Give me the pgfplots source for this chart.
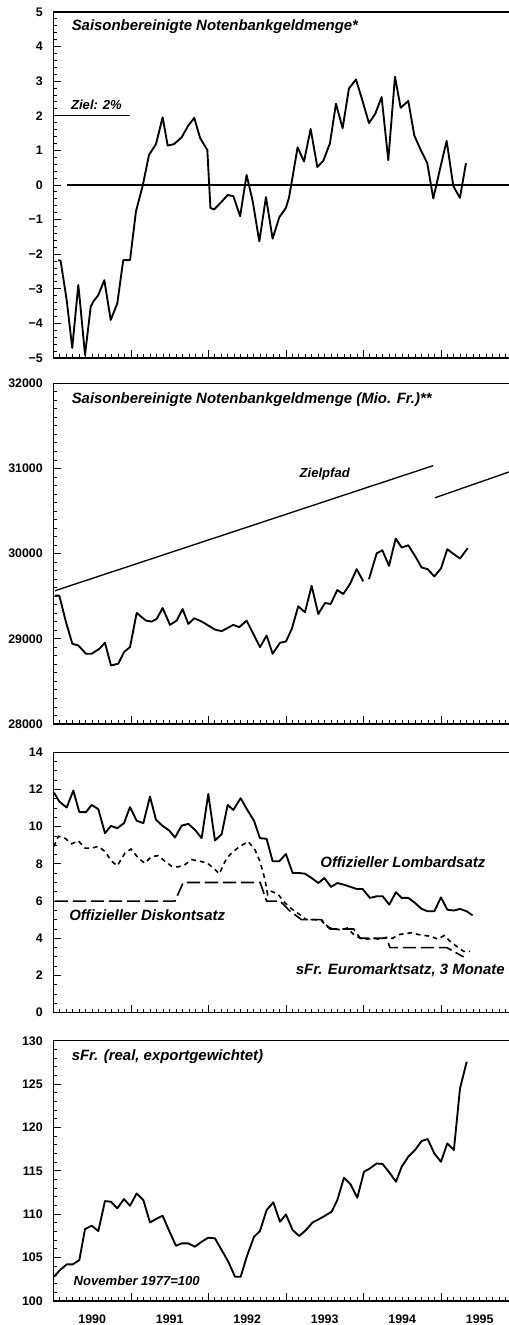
\documentclass[border=0pt]{standalone}
\usepackage{pgfplots}
\pgfplotsset{compat=1.18}
\usepackage{fontspec}
\setmainfont{Liberation Sans}

\newcommand\lab{\fontsize{11.2}{13}\selectfont\bfseries\itshape}
\newcommand\slab{\fontsize{9.8}{12}\selectfont\bfseries\itshape}

\pgfplotsset{
  panel/.style={
    scale only axis, width=346.3pt, xmin=0, xmax=71.5,
    anchor=south west, clip mode=individual,
    scaled y ticks=false,
    axis line style={line width=0.9pt},
    tick align=inside, xtick pos=bottom, ytick pos=left,
    xtick={12,24,36,48,60}, xticklabels={},
    minor xtick={1,...,71},
    major tick length=6pt, minor tick length=3pt,
    every tick/.style={black, line width=0.7pt},
    yticklabel style={font=\fontsize{9.3}{10}\selectfont\bfseries, xshift=-4.5pt},
    xticklabel style={font=\fontsize{9.3}{10}\selectfont\bfseries},
  },
  dat/.style={black, line width=1.4pt, no markers, line join=round},
}

\begin{document}
\begin{tikzpicture}
\useasboundingbox (0,0) rectangle (381pt,-993.75pt);

% Panel 1: Wachstum der Notenbankgeldmenge
\begin{axis}[panel, at={(40.125pt,-268.5pt)}, height=259.5pt,
  ymin=-5, ymax=5, ytick={-5,...,5},
  yticklabels={−5,−4,−3,−2,−1,0,1,2,3,4,5}, minor y tick num=4]
\addplot[dat] coordinates {(0.74,-2.17) (1.1,-2.19) (2.04,-3.32) (2.9,-4.71) (3.84,-2.89) (4.1,-3.37) (4.88,-4.91) (5.76,-3.52) (6.16,-3.37) (6.94,-3.18) (7.87,-2.75) (8.86,-3.90) (9.88,-3.42) (10.8,-2.17) (11.85,-2.17) (12.77,-0.76) (13.8,-0.03) (14.79,0.87) (15.87,1.18) (16.9,1.96) (17.68,1.14) (18.66,1.18) (19.85,1.38) (20.88,1.72) (21.8,1.94) (22.7,1.36) (23.82,1.01) (24.3,-0.66) (24.85,-0.71) (25.9,-0.51) (26.97,-0.29) (27.85,-0.32) (28.9,-0.9) (29.9,0.29) (30.85,-0.47) (31.87,-1.63) (32.9,-0.35) (33.93,-1.55) (34.97,-0.93) (35.99,-0.66) (36.46,-0.37) (37.0,0.21) (37.8,1.09) (38.79,0.68) (39.82,1.62) (40.85,0.52) (41.78,0.70) (42.8,1.2) (43.74,2.35) (44.77,1.64) (45.75,2.79) (46.84,3.05) (47.82,2.45) (48.85,1.79) (49.83,2.06) (50.81,2.54) (51.84,0.72) (52.88,3.13) (53.76,2.23) (54.94,2.43) (55.87,1.43) (56.85,1.02) (57.88,0.63) (58.81,-0.39) (59.85,0.46) (60.88,1.28) (61.91,-0.03) (62.94,-0.37) (63.87,0.63)};
\addplot[black, line width=1.1pt] coordinates {(2.1,0) (71.5,0)};
\addplot[black, line width=1pt] coordinates {(0,2) (11.85,2)};
\node[anchor=west] at (axis cs:2.1,4.57) {\lab Saisonbereinigte Notenbankgeldmenge*};
\node[anchor=west] at (axis cs:2.0,2.32) {\slab Ziel: 2\%};
\end{axis}

% Panel 2: Niveau und Zielpfad
\begin{axis}[panel, at={(40.125pt,-543pt)}, height=255.5pt,
  ymin=28000, ymax=32000, ytick={28000,29000,30000,31000,32000},
  yticklabels={28000,29000,30000,31000,32000}, minor y tick num=9]
\addplot[dat] coordinates {(0.23,29507) (0.9,29507) (1.94,29195) (2.92,28942) (3.85,28922) (5.03,28825) (5.9,28825) (7.1,28883) (7.97,28954) (8.9,28688) (10.04,28708) (10.92,28845) (11.85,28903) (12.88,29304) (14.32,29214) (15.2,29203) (15.98,29234) (16.9,29362) (18.04,29164) (19.07,29214) (20.0,29350) (20.87,29175) (21.8,29242) (22.95,29203) (23.97,29156) (25.0,29109) (26.05,29090) (26.9,29125) (27.84,29164) (28.77,29137) (29.9,29214) (30.94,29058) (31.98,28903) (33.0,29039) (33.94,28825) (35.07,28954) (36.0,28969) (36.9,29117) (37.9,29382) (38.94,29312) (39.97,29624) (41.0,29292) (42.04,29421) (42.92,29409) (43.95,29573) (44.88,29526) (45.91,29643) (46.95,29818) (47.97,29674)};
\addplot[dat] coordinates {(48.85,29701) (50.05,30005) (50.92,30040) (51.95,29857) (52.99,30177) (53.92,30072) (54.94,30099) (55.98,29974) (57.01,29838) (57.94,29818) (58.97,29733) (60.0,29826) (60.98,30052) (62.0,29994) (62.95,29943) (64.14,30064)};
\addplot[black, line width=1pt] coordinates {(0.23,29565) (58.8,31034)};
\addplot[black, line width=1pt] coordinates {(59.06,30656) (71.5,30985)};
\node[anchor=west] at (axis cs:2.1,31805) {\lab Saisonbereinigte Notenbankgeldmenge (Mio. Fr.)**};
\node at (axis cs:42,30929) {\slab Zielpfad};
\end{axis}

% Panel 3: Zinssaetze
\begin{axis}[panel, at={(40.125pt,-759.5pt)}, height=195.3pt,
  ymin=0, ymax=14, ytick={0,2,...,14},
  yticklabels={0,2,4,6,8,10,12,14}, minor y tick num=3]
\addplot[dat] coordinates {(0.08,11.83) (0.9,11.35) (2.04,11.03) (3.07,11.94) (4.0,10.78) (5.03,10.78) (5.91,11.17) (6.94,10.94) (7.97,9.65) (8.9,10.04) (9.88,9.92) (10.92,10.19) (11.84,11.05) (12.88,10.32) (13.91,10.19) (14.94,11.62) (15.87,10.37) (16.9,10.04) (17.93,9.79) (18.81,9.42) (19.85,10.06) (20.88,10.15) (21.91,9.83) (22.94,9.38) (23.97,11.76) (25.0,9.26) (26.04,9.6) (26.97,11.17) (27.85,10.9) (28.98,11.53) (30.01,10.9) (31.05,10.32) (31.97,9.38) (33.0,9.35) (33.93,8.14) (34.97,8.14) (35.99,8.53) (37.03,7.51) (38.06,7.51) (38.94,7.47) (39.97,7.24) (41.0,6.97) (41.94,7.24) (42.97,6.76) (43.95,6.97) (44.98,6.88) (46.01,6.76) (46.94,6.65) (47.87,6.65) (49.0,6.17) (50.05,6.26) (50.97,6.26) (52.0,5.81) (53.03,6.48) (53.92,6.17) (54.94,6.17) (55.98,5.9) (57.01,5.58) (57.94,5.45) (58.97,5.45) (60.0,6.2) (60.98,5.54) (62.0,5.49) (62.95,5.58) (63.98,5.45) (64.9,5.23)};
\addplot[black, line width=1.2pt, dash pattern=on 3.5pt off 3pt] coordinates {(0.05,8.93) (0.75,9.48) (1.78,9.38) (2.81,9.08) (3.84,9.24) (4.88,8.85) (5.91,8.85) (6.94,8.94) (7.97,8.67) (9.0,8.14) (9.88,7.9) (11.07,8.58) (12.0,8.8) (13.13,8.31) (14.17,8.04) (15.2,8.4) (16.23,8.44) (17.26,8.14) (18.3,7.87) (19.33,7.84) (20.36,7.96) (21.39,8.23) (22.68,8.14) (23.82,8.04) (24.75,7.78) (25.68,7.47) (26.81,8.31) (27.84,8.67) (28.87,8.94) (30.16,9.2) (31.2,8.76) (31.97,8.14) (32.75,7.15) (33.16,6.35) (33.78,6.53) (34.81,6.35) (35.84,5.9) (37.03,5.54) (38.16,5.27) (39.2,5.0) (40.5,5.0) (41.5,4.95) (42.5,4.6) (43.5,4.5) (44.5,4.45) (45.5,4.55) (46.5,4.2) (47.5,4.0) (48.5,3.95) (49.5,4.0) (50.5,3.95) (51.5,4.05) (52.5,4.0) (53.5,4.2) (54.5,4.25) (55.5,4.3) (56.5,4.2) (57.5,4.15) (58.5,4.1) (59.5,3.95) (60.5,4.15) (61.5,3.8) (62.5,3.55) (63.5,3.3) (64.5,3.3)};
\addplot[black, line width=1.2pt, dash pattern=on 10pt off 3.5pt] coordinates {(0.2,6) (18.8,6) (20.1,7) (32.0,7) (33.0,6) (35.1,6) (36.5,5.5) (38.4,5) (41.5,5) (42.8,4.5) (46.5,4.5) (47.5,4) (51.6,4) (52.1,3.5) (60.9,3.5) (63.5,3.0)};
\node at (axis cs:54.1,8.1) {\lab Offizieller Lombardsatz};
\node at (axis cs:14.5,5.25) {\lab Offizieller Diskontsatz};
\node[anchor=east] at (axis cs:70.6,2.3) {\lab sFr. Euromarktsatz, 3 Monate};
\end{axis}

% Panel 4: realer Wechselkurs
\begin{axis}[panel, at={(40.125pt,-975.75pt)}, height=195.2pt,
  ymin=100, ymax=130, ytick={100,105,...,130},
  yticklabels={100,105,110,115,120,125,130}, minor y tick num=4,
  extra x ticks={6,18,30,42,54,66},
  extra x tick labels={1990,1991,1992,1993,1994,1995},
  extra x tick style={major tick length=0pt, xticklabel style={inner sep=0pt, yshift=-10.5pt}}]
\addplot[dat] coordinates {(0.08,102.8) (1.01,103.57) (2.04,104.22) (2.97,104.22) (4.0,104.72) (4.88,108.29) (5.91,108.68) (6.94,108.06) (7.97,111.52) (8.9,111.44) (9.88,110.68) (10.92,111.75) (11.84,110.98) (12.88,112.4) (13.91,111.64) (14.94,109.06) (15.87,109.45) (16.9,109.83) (17.93,108.06) (18.96,106.37) (19.85,106.64) (20.88,106.64) (21.91,106.26) (22.94,106.83) (23.97,107.3) (25.0,107.22) (26.04,105.87) (27.07,104.53) (28.1,102.8) (28.98,102.8) (30.01,105.3) (31.05,107.41) (31.97,108.06) (33.0,110.48) (34.04,111.37) (35.07,109.14) (35.99,109.98) (37.03,108.18) (38.06,107.49) (39.09,108.18) (40.12,109.06) (41.15,109.45) (42.04,109.83) (43.07,110.29) (43.95,111.64) (44.98,114.21) (46.01,113.44) (47.04,111.9) (48.08,114.9) (49.0,115.29) (50.05,115.86) (50.97,115.79) (52.0,114.83) (53.03,113.75) (53.92,115.48) (54.94,116.63) (55.98,117.4) (57.01,118.44) (57.94,118.67) (58.97,117.01) (60.0,116.05) (60.98,118.17) (62.0,117.4) (62.95,124.51) (63.98,127.58)};
\node[anchor=west] at (axis cs:2.1,128.16) {\lab sFr. (real, exportgewichtet)};
\node[anchor=west] at (axis cs:2.4,102.3) {\slab November 1977=100};
\end{axis}
\end{tikzpicture}
\end{document}
